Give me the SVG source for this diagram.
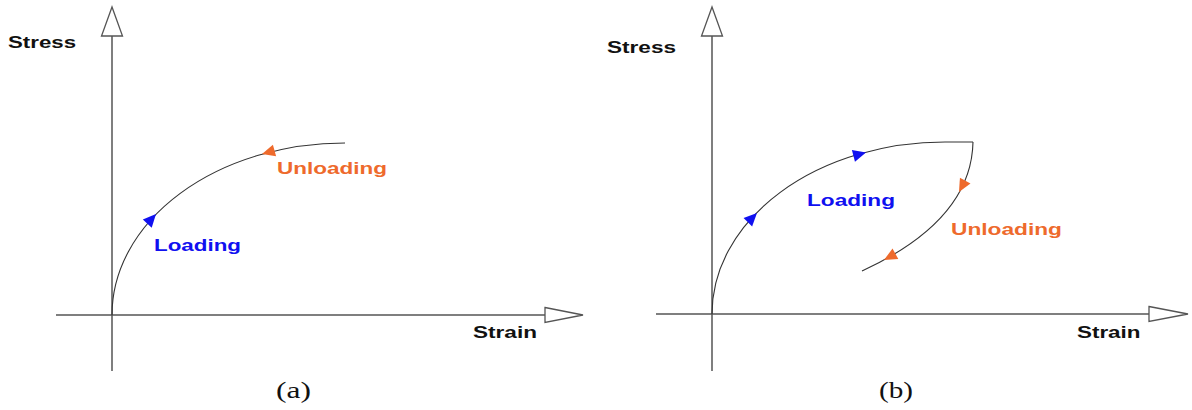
<svg xmlns="http://www.w3.org/2000/svg" width="1192" height="410" viewBox="0 0 1192 410">
<style>
.axis{stroke:#555;stroke-width:1.5;fill:none}
.ahead{fill:#fff;stroke:#555;stroke-width:1.3}
.curve{stroke:#333;stroke-width:1.1;fill:none}
.lbl{font-family:"Liberation Sans",Arial,sans-serif;font-weight:bold;font-size:16.5px;fill:#111}
.blue{font-family:"Liberation Sans",Arial,sans-serif;font-weight:bold;font-size:17px;fill:#1010F0}
.orange{font-family:"Liberation Sans",Arial,sans-serif;font-weight:bold;font-size:17px;fill:#EE6A2C}
.cap{font-family:"Liberation Serif","Times New Roman",serif;font-size:24px;fill:#111}
.bh{fill:#1010F0}
.oh{fill:#EE6A2C}
</style>
<defs>
<path id="tri" d="M0,0 L-13,-6 L-13,6 Z"/>
</defs>
<rect width="1192" height="410" fill="#fff"/>
<g id="panel-a">
<g id="axes-a">
<line class="axis" x1="112" y1="36" x2="112" y2="371"/>
<polygon class="ahead" points="112,7 101.5,36 122.5,36"/>
<line class="axis" x1="56" y1="315" x2="545" y2="315"/>
<polygon class="ahead" points="545,307.5 583,315 545,322.5"/>
</g>
<g id="connectors-a">
<path class="curve" d="M112,315 A233,172 0 0 1 345,143"/>
<use href="#tri" class="bh" transform="translate(156,214) rotate(-47.7)"/>
<use href="#tri" class="oh" transform="translate(262,154) rotate(164.3)"/>
</g>
<text class="lbl" x="8" y="48" textLength="68" lengthAdjust="spacingAndGlyphs">Stress</text>
<text class="lbl" x="473" y="338" textLength="64" lengthAdjust="spacingAndGlyphs">Strain</text>
<text class="orange" x="277" y="174" textLength="110" lengthAdjust="spacingAndGlyphs">Unloading</text>
<text class="blue" x="154" y="250.5" textLength="87" lengthAdjust="spacingAndGlyphs">Loading</text>
<text class="cap" x="276" y="398" textLength="35" lengthAdjust="spacingAndGlyphs">(a)</text>
</g>
<g id="panel-b">
<g id="axes-b">
<line class="axis" x1="712" y1="36" x2="712" y2="371"/>
<polygon class="ahead" points="712,7 701.5,36 722.5,36"/>
<line class="axis" x1="656" y1="314" x2="1149" y2="314"/>
<polygon class="ahead" points="1149,306.5 1188,314 1149,321.5"/>
</g>
<g id="connectors-b">
<path class="curve" d="M712,314 A233,172 0 0 1 945,142 L973,142"/>
<path class="curve" d="M973,142 C972,190 940,235 862,271"/>
<use href="#tri" class="bh" transform="translate(757,213) rotate(-45.3)"/>
<use href="#tri" class="bh" transform="translate(866,152.5) rotate(-14.9)"/>
<use href="#tri" class="oh" transform="translate(959,192) rotate(118.5)"/>
<use href="#tri" class="oh" transform="translate(884,260) rotate(151.3)"/>
</g>
<text class="lbl" x="607" y="52.5" textLength="69" lengthAdjust="spacingAndGlyphs">Stress</text>
<text class="lbl" x="1077" y="338" textLength="63.5" lengthAdjust="spacingAndGlyphs">Strain</text>
<text class="blue" x="807" y="206" textLength="88" lengthAdjust="spacingAndGlyphs">Loading</text>
<text class="orange" x="951" y="235" textLength="111" lengthAdjust="spacingAndGlyphs">Unloading</text>
<text class="cap" x="879" y="398" textLength="34" lengthAdjust="spacingAndGlyphs">(b)</text>
</g>
</svg>
